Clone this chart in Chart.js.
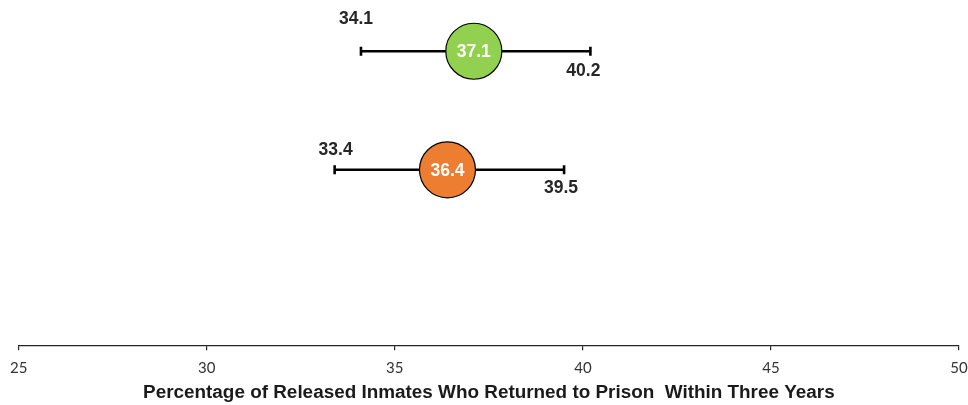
<!DOCTYPE html>
<html>
<head>
<meta charset="utf-8">
<script src="https://cdn.jsdelivr.net/npm/chart.js@4.4.1/dist/chart.umd.min.js"></script>
<style>
  html, body { margin: 0; padding: 0; background: #ffffff; }
  #wrap { position: relative; width: 968px; height: 405px; }
</style>
</head>
<body>
<div id="wrap"><canvas id="chart"></canvas></div>
<script>
// Recidivism estimates with their confidence intervals, one row per group
const rowPositions = [1, 2];
const estimates = [37.1, 36.4];
const lowerBounds = [34.1, 33.4];
const upperBounds = [40.2, 39.5];
const xTickValues = [25, 30, 35, 40, 45, 50];
const xAxisTitle = 'Percentage of Released Inmates Who Returned to Prison  Within Three Years';

const markerColors = ['#92d050', '#ed7d31'];

// Per-row placement of the bound labels relative to the bar ends (pixels)
const boundLabelStyle = [
  { low: { dx: -5, dy: -32 }, high: { dx: -7, dy: 20 } },
  { low: { dx: 1, dy: -20 }, high: { dx: -3, dy: 18 } }
];

const valueFont = 'bold 17.5px "Liberation Sans", Arial, sans-serif';

const intervalPlugin = {
  id: 'intervals',
  beforeDatasetsDraw(chart) {
    const { ctx, scales: { x, y } } = chart;
    ctx.save();
    ctx.strokeStyle = '#000000';
    ctx.lineWidth = 2.6;
    ctx.lineCap = 'butt';
    rowPositions.forEach((row, i) => {
      const py = y.getPixelForValue(row);
      const x0 = x.getPixelForValue(lowerBounds[i]);
      const x1 = x.getPixelForValue(upperBounds[i]);
      ctx.beginPath();
      ctx.moveTo(x0, py);
      ctx.lineTo(x1, py);
      ctx.stroke();
      ctx.beginPath();
      ctx.moveTo(x0, py - 4.5);
      ctx.lineTo(x0, py + 4.5);
      ctx.moveTo(x1, py - 4.5);
      ctx.lineTo(x1, py + 4.5);
      ctx.stroke();
    });
    ctx.restore();
  },
  afterDatasetsDraw(chart) {
    const { ctx, scales: { x, y } } = chart;
    ctx.save();
    ctx.font = valueFont;
    ctx.textAlign = 'center';
    ctx.textBaseline = 'middle';
    rowPositions.forEach((row, i) => {
      const py = y.getPixelForValue(row);
      const s = boundLabelStyle[i];
      ctx.fillStyle = '#262626';
      ctx.fillText(lowerBounds[i].toFixed(1), x.getPixelForValue(lowerBounds[i]) + s.low.dx, py + s.low.dy);
      ctx.fillText(upperBounds[i].toFixed(1), x.getPixelForValue(upperBounds[i]) + s.high.dx, py + s.high.dy);
      ctx.fillStyle = '#ffffff';
      ctx.fillText(estimates[i].toFixed(1), x.getPixelForValue(estimates[i]), py + 1);
    });
    ctx.restore();
  }
};

new Chart(document.getElementById('chart'), {
  type: 'scatter',
  data: {
    datasets: [{
      data: estimates.map((v, i) => ({ x: v, y: rowPositions[i] })),
      pointRadius: 28,
      pointHoverRadius: 28,
      pointBackgroundColor: markerColors,
      pointBorderColor: '#000000',
      pointBorderWidth: 1.2,
      clip: false
    }]
  },
  options: {
    responsive: true,
    maintainAspectRatio: false,
    animation: false,
    events: [],
    layout: { autoPadding: false, padding: { left: 18.7, right: 9, top: 0, bottom: 1 } },
    plugins: { legend: { display: false }, tooltip: { enabled: false } },
    scales: {
      x: {
        type: 'linear',
        min: 25,
        max: 50,
        afterBuildTicks(axis) { axis.ticks = xTickValues.map(v => ({ value: v })); },
        afterFit(axis) { axis.paddingLeft = 0; axis.paddingRight = 0; },
        border: { display: true, color: '#262626', width: 1.2 },
        grid: { drawOnChartArea: false, drawTicks: true, tickLength: 5, color: '#262626', lineWidth: 1.2 },
        ticks: {
          color: '#333333',
          padding: 9,
          maxRotation: 0,
          font: { family: 'Lato, "Open Sans", Arial, sans-serif', size: 15 }
        },
        title: {
          display: true,
          text: xAxisTitle,
          color: '#1a1a1a',
          padding: { top: -5, bottom: 0 },
          font: { family: '"Liberation Sans", Arial, sans-serif', size: 18.9, weight: 'bold' }
        }
      },
      y: {
        type: 'linear',
        display: false,
        reverse: true,
        min: 0.568,
        max: 3.48
      }
    }
  },
  plugins: [intervalPlugin]
});
</script>
</body>
</html>
